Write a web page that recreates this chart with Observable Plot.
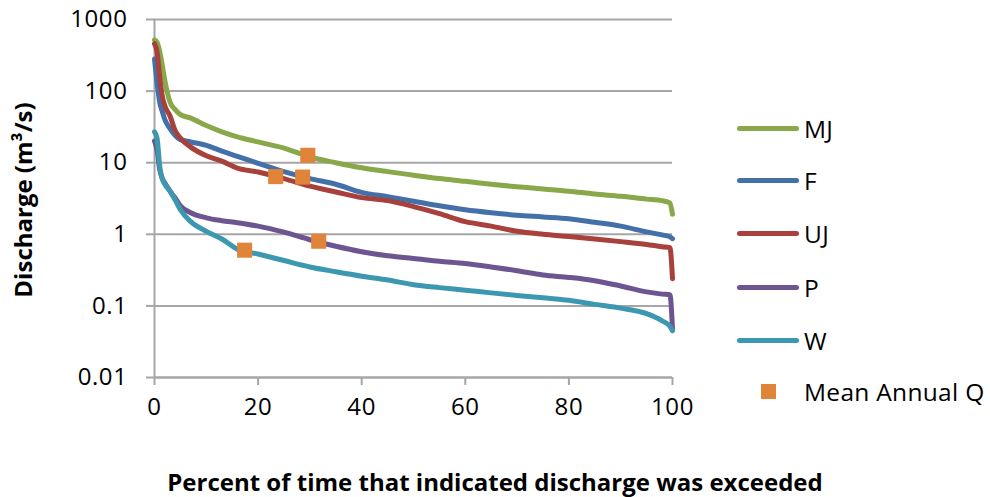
<!DOCTYPE html>
<html>
<head>
<meta charset="utf-8">
<script src="https://cdn.jsdelivr.net/npm/d3@7"></script>
<script src="https://cdn.jsdelivr.net/npm/@observablehq/plot@0.6"></script>
<style>
  html, body { margin: 0; padding: 0; background: #fff; }
  #chart { position: relative; width: 990px; height: 497px; font-family: "Open Sans", sans-serif; color: #000; }
  #chart svg { position: absolute; left: 0; top: 0; }
  #chart svg text { letter-spacing: 0.6px; }
  .ytitle { position: absolute; left: -127px; top: 185px; width: 300px; text-align: center; font-weight: bold; font-size: 24px; line-height: 30px; transform: rotate(-90deg); }
  .xtitle { position: absolute; left: 45px; top: 467px; width: 900px; text-align: center; font-weight: bold; font-size: 24px; line-height: 30px; }
  .leg { position: absolute; left: 737px; height: 30px; display: flex; align-items: center; font-size: 24.5px; letter-spacing: 0.3px; white-space: nowrap; }
  .leg .ln { width: 62px; height: 5px; border-radius: 3px; margin-right: 5px; }
  .leg .sq { width: 15px; height: 15px; margin-left: 24px; margin-right: 28px; }
</style>
</head>
<body>
<div id="chart"></div>
<script>
// ---- data ----
const pct = [0, 0.5, 1, 1.5, 2, 3, 4, 5, 7, 10, 13, 16, 20, 25, 30, 35, 40, 45, 50, 55, 60, 65, 70, 75, 80, 85, 90, 95, 98, 99.5, 100];
const seriesNames = ["MJ", "F", "UJ", "P", "W"];
const seriesColors = ["#88A84A", "#4470AA", "#A8403C", "#6C5590", "#3C98B0"];
const MJ = [520, 480, 360, 230, 140, 70, 55, 47, 42, 33, 27, 23, 19.5, 16, 12, 10, 8.5, 7.5, 6.7, 6.0, 5.5, 5.0, 4.6, 4.3, 4.0, 3.65, 3.4, 3.1, 2.95, 2.75, 1.9];
const F  = [280, 130, 70, 52, 40, 30, 24, 21, 19.5, 17.5, 14.5, 12.3, 9.8, 7.5, 6.0, 5.0, 3.85, 3.35, 2.9, 2.5, 2.2, 2.0, 1.85, 1.75, 1.65, 1.47, 1.3, 1.08, 0.98, 0.92, 0.87];
const UJ = [460, 350, 160, 85, 62, 45, 28, 22, 16.5, 12.5, 10.5, 8.4, 7.4, 6.0, 4.7, 3.9, 3.25, 2.95, 2.44, 1.95, 1.5, 1.3, 1.1, 1.0, 0.93, 0.86, 0.79, 0.72, 0.67, 0.65, 0.24];
const P  = [20, 15, 8, 6, 5.2, 4.0, 3.2, 2.5, 2.0, 1.7, 1.55, 1.45, 1.3, 1.07, 0.84, 0.68, 0.57, 0.5, 0.46, 0.42, 0.39, 0.35, 0.31, 0.27, 0.25, 0.225, 0.19, 0.157, 0.146, 0.143, 0.048];
const W  = [27, 22, 9, 6, 5.0, 4.0, 3.0, 2.2, 1.5, 1.1, 0.86, 0.62, 0.53, 0.43, 0.35, 0.3, 0.26, 0.23, 0.198, 0.18, 0.166, 0.152, 0.14, 0.13, 0.12, 0.105, 0.093, 0.078, 0.062, 0.052, 0.045];
const seriesValues = [MJ, F, UJ, P, W];
const meanPct = [29.6, 28.6, 23.4, 31.7, 17.4];
const meanQ   = [12.7, 6.3, 6.4, 0.8, 0.6];
const meanLabel = "Mean Annual Q";
const meanColor = "#E0843A";
const yTicks = [0.01, 0.1, 1, 10, 100, 1000];
const yTickLabels = ["0.01", "0.1", "1", "10", "100", "1000"];
const xTicks = [0, 20, 40, 60, 80, 100];
const xTitle = "Percent of time that indicated discharge was exceeded";
const yTitle = "Discharge (m³/s)";

// ---- build tables ----
const lineData = seriesNames.flatMap((s, i) => pct.map((p, j) => ({series: s, pct: p, q: seriesValues[i][j]})));
const meanData = meanPct.map((p, i) => ({pct: p, q: meanQ[i]}));
const grid = "#A6A6A6";

const plot = Plot.plot({
  width: 990,
  height: 497,
  marginLeft: 154,
  marginRight: 318,
  marginTop: 19,
  marginBottom: 120,
  style: {fontFamily: "'Open Sans', sans-serif", fontSize: "24px", background: "transparent", overflow: "visible"},
  x: {domain: [0, 100]},
  y: {type: "log", domain: [0.01, 1000]},
  color: {domain: seriesNames, range: seriesColors},
  marks: [
    Plot.gridY(yTicks, {stroke: grid, strokeOpacity: 1, strokeWidth: 2}),
    Plot.ruleX([0], {stroke: grid, strokeWidth: 2}),
    Plot.ruleY([0.01], {stroke: grid, strokeWidth: 2}),
    Plot.axisY(yTicks, {tickFormat: d => yTickLabels[yTicks.indexOf(d)], tickSize: 8, tickPadding: 19, stroke: grid, strokeWidth: 2, fill: "#000", fontSize: 24, label: null}),
    Plot.axisX(xTicks, {tickSize: 8, tickPadding: 12, stroke: grid, strokeWidth: 2, fill: "#000", fontSize: 24, label: null}),
    Plot.line(lineData, {x: "pct", y: "q", z: "series", stroke: "series", strokeWidth: 5, curve: "monotone-x", strokeLinejoin: "round", strokeLinecap: "round"}),
    Plot.dot(meanData, {x: "pct", y: "q", symbol: "square", r: 8.5, fill: meanColor, stroke: "none"})
  ]
});

const chart = document.getElementById("chart");
chart.appendChild(plot);

const yt = document.createElement("div");
yt.className = "ytitle"; yt.textContent = yTitle; chart.appendChild(yt);
const xt = document.createElement("div");
xt.className = "xtitle"; xt.textContent = xTitle; chart.appendChild(xt);

const legTops = [113, 165, 218, 272, 325];
seriesNames.forEach((s, i) => {
  const row = document.createElement("div");
  row.className = "leg";
  row.style.top = legTops[i] + "px";
  const ln = document.createElement("div");
  ln.className = "ln"; ln.style.background = seriesColors[i];
  const tx = document.createElement("span"); tx.textContent = s;
  row.appendChild(ln); row.appendChild(tx);
  chart.appendChild(row);
});
const mrow = document.createElement("div");
mrow.className = "leg"; mrow.style.top = "376px";
const sq = document.createElement("div");
sq.className = "sq"; sq.style.background = meanColor;
const mtx = document.createElement("span"); mtx.textContent = meanLabel;
mrow.appendChild(sq); mrow.appendChild(mtx);
chart.appendChild(mrow);
</script>
</body>
</html>
